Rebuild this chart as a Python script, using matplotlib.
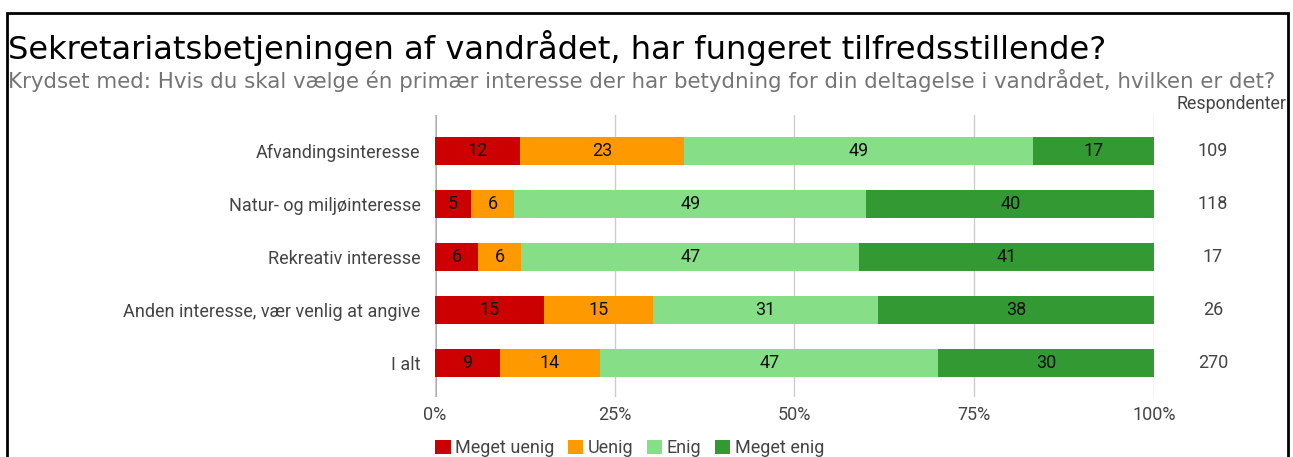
import matplotlib
matplotlib.use("Agg")
import matplotlib.pyplot as plt
import matplotlib.transforms as mtransforms
from matplotlib.patches import Rectangle
import numpy as np

# Survey results: share of answers (%) per primary interest group
categories = ["Afvandingsinteresse", "Natur- og miljøinteresse", "Rekreativ interesse",
              "Anden interesse, vær venlig at angive", "I alt"]
meget_uenig = [12, 5, 6, 15, 9]
uenig = [23, 6, 6, 15, 14]
enig = [49, 49, 47, 31, 47]
meget_enig = [17, 40, 41, 38, 30]
respondenter = [109, 118, 17, 26, 270]

series_names = ["Meget uenig", "Uenig", "Enig", "Meget enig"]
series_colors = ["#cc0000", "#ff9900", "#86de86", "#339933"]
ticks = [0, 25, 50, 75, 100]
tick_labels = ["0%", "25%", "50%", "75%", "100%"]

W, H = 1293, 457
fig = plt.figure(figsize=(W / 100, H / 100), dpi=100)

def fx(px):
    return px / W

def fy(py):
    return 1 - py / H

# frame around the whole chart
fig.patches.append(Rectangle((fx(6.5), fy(470)), fx(1288) - fx(6.5), fy(12.5) - fy(470),
                             transform=fig.transFigure, fill=False, edgecolor="black",
                             linewidth=2, clip_on=False))

fig.text(fx(8), fy(48), "Sekretariatsbetjeningen af vandrådet, har fungeret tilfredsstillende?",
         fontsize=23.1, family="DejaVu Sans", color="black", va="center", ha="left")
fig.text(fx(8), fy(81), "Krydset med: Hvis du skal vælge én primær interesse der har betydning for din deltagelse i vandrådet, hvilken er det?",
         fontsize=15.4, family="DejaVu Sans", color="#757575", va="center", ha="left")

ax = fig.add_axes([fx(435), fy(397), fx(1154) - fx(435), fy(115) - fy(397)])

data = np.array([meget_uenig, uenig, enig, meget_enig], dtype=float)
totals = data.sum(axis=0)
shares = data / totals * 100
y = np.arange(len(categories))
left = np.zeros(len(categories))
for vals, pct, name, col in zip(data, shares, series_names, series_colors):
    ax.barh(y, pct, left=left, height=0.53, color=col, label=name, zorder=3)
    for yi, l, w, v in zip(y, left, pct, vals):
        ax.text(l + w / 2, yi, f"{int(v)}", ha="center", va="center",
                fontsize=13, family="Roboto", color="#111111", zorder=4)
    left += pct

ax.set_xlim(0, 100)
ax.set_ylim(len(categories) - 1 + 0.65, -0.68)
ax.set_xticks(ticks)
ax.set_xticklabels(tick_labels)
ax.set_yticks(y)
ax.set_yticklabels(categories)
for s in ax.spines.values():
    s.set_visible(False)
ax.grid(axis="x", color="#cccccc", linewidth=1, zorder=0)
ax.axvline(0, color="#9e9e9e", linewidth=2, zorder=1)
ax.tick_params(axis="both", length=0, labelsize=13, labelcolor="#444444")
ax.tick_params(axis="x", pad=6.5)
ax.tick_params(axis="y", pad=10.5)
for lab in ax.get_xticklabels() + ax.get_yticklabels():
    lab.set_family("Roboto")

# respondent counts column
trans = mtransforms.blended_transform_factory(fig.transFigure, ax.transData)
for yi, n in zip(y, respondenter):
    ax.text(fx(1213), yi, str(n), transform=trans, ha="center", va="center",
            fontsize=13, family="Roboto", color="#444444")
fig.text(fx(1286), fy(104), "Respondenter", ha="right", va="center",
         fontsize=12.8, family="Roboto", color="#444444")

leg = fig.legend(loc="center left", bbox_to_anchor=(fx(419), fy(448)), ncol=4, frameon=False,
                 handlelength=0.85, handleheight=0.85, handletextpad=0.25, columnspacing=0.75,
                 prop={"family": "Roboto", "size": 13})
for t in leg.get_texts():
    t.set_color("#444444")

fig.savefig("out.png", dpi=100)
